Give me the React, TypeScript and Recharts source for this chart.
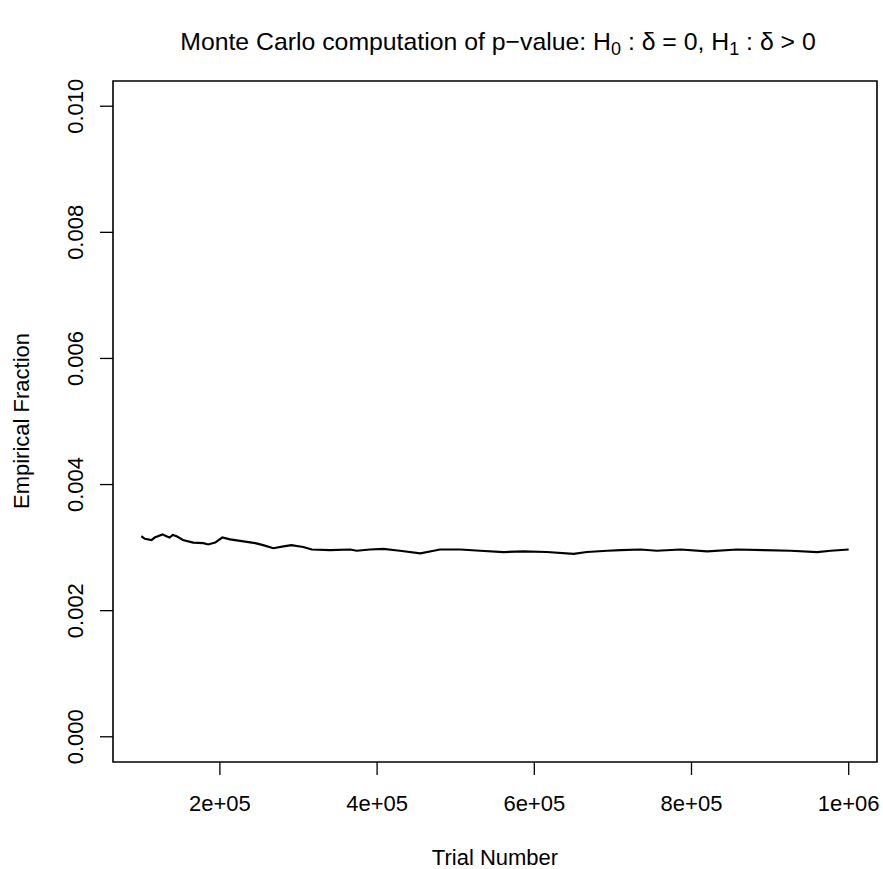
import React from "react";
import { LineChart, Line, XAxis, YAxis, ReferenceArea } from "recharts";

const trials = [
  100000, 104500, 113000, 117000, 127000, 132000, 136000, 140000, 145000, 153000,
  166000, 179000, 185000, 194000, 203000, 213000, 230000, 245000, 255000, 268000,
  281000, 291000, 306000, 317000, 340000, 366000, 374000, 391000, 408000, 429000,
  455000, 472000, 480000, 506000, 531000, 561000, 586000, 616000, 650000, 667000,
  693000, 710000, 735000, 756000, 786000, 820000, 858000, 892000, 926000, 960000,
  977000, 1000000,
];
const fraction = [
  0.00318, 0.00314, 0.00312, 0.00316, 0.00321, 0.00318, 0.00316, 0.0032, 0.00318, 0.00312,
  0.00308, 0.00307, 0.00305, 0.00308, 0.00316, 0.00313, 0.0031, 0.00307, 0.00304, 0.00299,
  0.00302, 0.00304, 0.00301, 0.00297, 0.00296, 0.00297, 0.00295, 0.00297, 0.00298, 0.00295,
  0.00291, 0.00295, 0.00297, 0.00297, 0.00295, 0.00293, 0.00294, 0.00293, 0.0029, 0.00293,
  0.00295, 0.00296, 0.00297, 0.00295, 0.00297, 0.00294, 0.00297, 0.00296, 0.00295, 0.00293,
  0.00295, 0.00297,
];

const xTicks = [200000, 400000, 600000, 800000, 1000000];
const xTickLabels = ["2e+05", "4e+05", "6e+05", "8e+05", "1e+06"];
const yTicks = [0, 0.002, 0.004, 0.006, 0.008, 0.01];

const data = trials.map((t, i) => ({ t, p: fraction[i] }));

const FONT = "'Liberation Sans', Arial, Helvetica, sans-serif";

const XTick = (props: any) => {
  const { x, y, payload } = props;
  const i = xTicks.indexOf(payload.value);
  return (
    <text x={x} y={y + 36} textAnchor="middle" fontFamily={FONT} fontSize={22} fill="#000">
      {xTickLabels[i]}
    </text>
  );
};

const YTick = (props: any) => {
  const { x, y, payload } = props;
  const tx = x - 17;
  return (
    <text
      x={tx}
      y={y}
      textAnchor="middle"
      transform={`rotate(-90, ${tx}, ${y})`}
      fontFamily={FONT}
      fontSize={22}
      fill="#000"
    >
      {payload.value.toFixed(3)}
    </text>
  );
};

export default function App() {
  return (
    <div style={{ position: "absolute", left: 0, top: 0, width: 883, height: 869, background: "#fff" }}>
      <LineChart
        width={883}
        height={869}
        data={data}
        margin={{ top: 81, right: 6, bottom: 57, left: 53 }}
      >
        <XAxis
          dataKey="t"
          type="number"
          domain={[64000, 1036000]}
          ticks={xTicks}
          tick={XTick}
          tickSize={13}
          tickMargin={0}
          tickLine={{ stroke: "#000", strokeWidth: 1.3 }}
          axisLine={false}
          height={50}
          allowDataOverflow
        />
        <YAxis
          type="number"
          domain={[-0.0004, 0.0104]}
          ticks={yTicks}
          tick={YTick}
          tickSize={13}
          tickMargin={0}
          tickLine={{ stroke: "#000", strokeWidth: 1.3 }}
          axisLine={false}
          width={60}
          allowDataOverflow
        />
        <ReferenceArea
          x1={64000}
          x2={1036000}
          y1={-0.0004}
          y2={0.0104}
          fill="none"
          stroke="#000"
          strokeWidth={1.6}
          ifOverflow="visible"
        />
        <Line
          dataKey="p"
          stroke="#000"
          strokeWidth={2.2}
          dot={false}
          isAnimationActive={false}
          type="linear"
        />
      </LineChart>
      <svg
        width={883}
        height={869}
        style={{ position: "absolute", left: 0, top: 0, pointerEvents: "none" }}
      >
        <text
          x={498}
          y={50}
          textAnchor="middle"
          fontFamily={FONT}
          fontSize={24.8}
          fill="#000"
        >
          Monte Carlo computation of p−value: H
          <tspan fontSize={18} baselineShift="-25%">0</tspan>
          {" : δ = 0, H"}
          <tspan fontSize={18} baselineShift="-25%">1</tspan>
          {" : δ > 0"}
        </text>
        <text x={495} y={865} textAnchor="middle" fontFamily={FONT} fontSize={22} fill="#000">
          Trial Number
        </text>
        <text
          x={29}
          y={421}
          textAnchor="middle"
          transform="rotate(-90, 29, 421)"
          fontFamily={FONT}
          fontSize={22}
          fill="#000"
        >
          Empirical Fraction
        </text>
      </svg>
    </div>
  );
}
